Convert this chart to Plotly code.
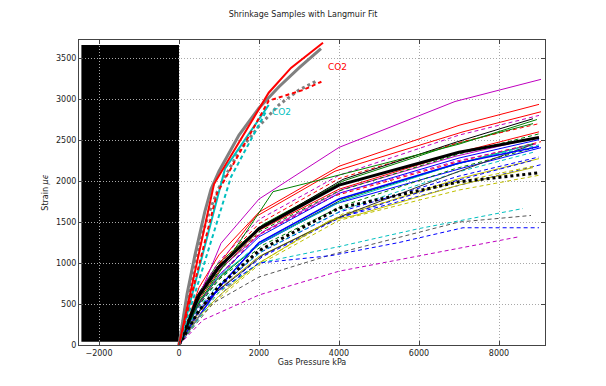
import plotly.graph_objects as go

# ---------------- data ----------------
# common pressure grids (kPa)
P_A = [0, 500, 1000, 2000, 4000, 7000, 9000]
P_B = [0, 450, 950, 2100, 4100, 6900, 8850]
P_C = [0, 550, 1100, 1900, 3900, 7100, 9050]

# main bundle strains (micro-strain)
red_a = [0, 700, 1100, 1620, 2180, 2680, 2935]
red_b = [0, 650, 1050, 1560, 2120, 2600, 2845]
red_c = [0, 550, 900, 1400, 1900, 2350, 2600]
mag_dash_a = [0, 640, 1020, 1530, 2070, 2560, 2800]
red_dash_a = [0, 600, 980, 1480, 2030, 2470, 2700]
black_thin_a = [0, 600, 950, 1450, 2020, 2470, 2760]
green_dash_a = [0, 560, 900, 1380, 1880, 2330, 2575]
black_thick = [0, 600, 950, 1420, 1950, 2350, 2530]
blue_a = [0, 500, 850, 1320, 1850, 2280, 2505]
green_b = [0, 480, 800, 1260, 1780, 2200, 2455]
blue_b = [0, 450, 760, 1200, 1720, 2160, 2407]
cyan_a = [0, 500, 820, 1260, 1760, 2200, 2450]
blue_dash_a = [0, 420, 700, 1120, 1620, 2060, 2293]
yellow_a = [0, 400, 680, 1080, 1560, 2030, 2273]
blue_dash_b = [0, 400, 660, 1080, 1570, 2000, 2253]
black_dot = [0, 420, 720, 1150, 1670, 1990, 2100]
yellow_dash = [0, 330, 570, 980, 1520, 1890, 2070]
green_dash_b = [0, 450, 780, 1220, 1700, 2150, 2400]
mag_dash_b = [0, 500, 850, 1350, 1850, 2250, 2460]
cyan_dash_a = [0, 430, 720, 1150, 1650, 2100, 2350]
black_thin_b = [0, 380, 650, 1100, 1580, 2100, 2447]
blue_thick = [0, 350, 700, 1250, 1780, 2220, 2420]
mag_c = [0, 560, 900, 1380, 1900, 2300, 2520]
red_dash_b = [0, 520, 860, 1320, 1820, 2250, 2480]
green_c = [0, 600, 980, 1470, 2000, 2450, 2700]
blue_dash_c = [0, 380, 640, 1040, 1540, 1960, 2200]
cyan_dash_b = [0, 480, 800, 1250, 1780, 2220, 2440]
yellow_dash_b = [0, 360, 620, 1030, 1600, 1980, 2180]

# series with their own pressure points
mag_solid_p = [0, 1050, 2000, 4000, 6900, 9050]
mag_solid_s = [0, 1240, 1780, 2410, 2970, 3240]
green_kink_p = [0, 500, 1000, 2350, 3500, 7000, 8950]
green_kink_s = [0, 520, 880, 1870, 2010, 2450, 2750]
yellow_kink_p = [0, 500, 1000, 2000, 3770, 4400, 7000, 8850]
yellow_kink_s = [0, 350, 600, 1000, 1520, 1580, 1950, 2164]

cyan_low_p = [0, 1000, 2000, 4000, 6000, 8600]
cyan_low_s = [0, 650, 1000, 1200, 1420, 1665]
gray_low_p = [0, 850, 2000, 3800, 7000, 8800]
gray_low_s = [0, 510, 830, 1100, 1500, 1580]
blue_low_p = [0, 700, 2000, 3800, 5500, 7100, 9000]
blue_low_s = [0, 560, 1000, 1090, 1250, 1430, 1430]
mag_low_p = [0, 600, 2000, 4000, 8500]
mag_low_s = [0, 305, 610, 900, 1320]

# CO2 samples and fits
co2_p = [0, 875, 2243, 2800, 3600]
co2_s = [0, 1963, 3077, 3380, 3687]
co2_dash_p = [0, 950, 2243, 3100, 3560]
co2_dash_s = [0, 1850, 2980, 3110, 3211]
co2_fit_p = [0, 200, 400, 643, 800, 1000, 1500, 2000, 2500, 3000, 3550]
co2_fit_s = [0, 620, 1100, 1620, 1900, 2120, 2560, 2890, 3150, 3380, 3615]
co2_dfit_p = [0, 200, 400, 600, 800, 1000, 1500, 2000, 2500, 3000, 3460]
co2_dfit_s = [0, 560, 1000, 1380, 1680, 1920, 2360, 2670, 2930, 3110, 3225]
co2_cyan_p = [0, 1150, 2243]
co2_cyan_s = [0, 2150, 2927]
co2_cyan_dash_p = [0, 1300, 2200]
co2_cyan_dash_s = [0, 2050, 2870]

x_ticks = [-2000, 0, 2000, 4000, 6000, 8000]
y_ticks = [0, 500, 1000, 1500, 2000, 2500, 3000, 3500]

# ---------------- styles ----------------
B, G, R, C, M, Y, K = "#0000ff", "#008000", "#ff0000", "#00bfbf", "#bf00bf", "#bfbf00", "#000000"
DASH = "4px,3px"
DOT = "3px,3px"

series = [
    (P_A, red_c, R, 1, "solid"),
    (P_B, mag_c, M, 1, "solid"),
    (P_C, red_dash_b, R, 1, DASH),
    (P_B, green_c, G, 1, "solid"),
    (P_C, blue_dash_c, B, 1, DASH),
    (P_A, cyan_dash_b, C, 1, DASH),
    (P_B, yellow_dash_b, Y, 1, DASH),
    (P_A, red_a, R, 1, "solid"),
    (P_C, red_b, R, 1, "solid"),
    (P_A, mag_dash_a, M, 1, DASH),
    (P_A, red_dash_a, R, 1, DASH),
    (P_B, black_thin_a, K, 1, "solid"),
    (P_A, green_dash_a, G, 1, DASH),
    (P_A, blue_a, B, 1, "solid"),
    (P_B, green_b, G, 1, "solid"),
    (P_C, blue_b, B, 1, "solid"),
    (P_B, cyan_a, C, 1, "solid"),
    (P_A, blue_dash_a, B, 1, DASH),
    (P_A, yellow_a, Y, 1, "solid"),
    (P_B, blue_dash_b, B, 1, DASH),
    (P_A, yellow_dash, Y, 1, DASH),
    (P_B, green_dash_b, G, 1, DASH),
    (P_A, mag_dash_b, M, 1, DASH),
    (P_B, cyan_dash_a, C, 1, DASH),
    (P_B, black_thin_b, "#333333", 1, "solid"),
    (P_A, blue_thick, B, 1.5, "solid"),
    (mag_solid_p, mag_solid_s, M, 1, "solid"),
    (green_kink_p, green_kink_s, G, 1, "solid"),
    (yellow_kink_p, yellow_kink_s, Y, 1, "solid"),
    (cyan_low_p, cyan_low_s, C, 1, DASH),
    (gray_low_p, gray_low_s, "#555555", 1, DASH),
    (blue_low_p, blue_low_s, B, 1, DASH),
    (mag_low_p, mag_low_s, M, 1, DASH),
    (P_A, black_thick, K, 3, "solid"),
    (P_A, black_dot, K, 3, DOT),
    (co2_fit_p, co2_fit_s, "#808080", 3, "solid"),
    (co2_dfit_p, co2_dfit_s, "#808080", 3, DOT),
    (co2_cyan_p, co2_cyan_s, C, 2, "solid"),
    (co2_cyan_dash_p, co2_cyan_dash_s, C, 2, DASH),
    (co2_dash_p, co2_dash_s, R, 2, DASH),
    (co2_p, co2_s, R, 2, "solid"),
]

fig = go.Figure()
for px, sy, col, w, dash in series:
    fig.add_trace(go.Scatter(x=px, y=sy, mode="lines",
                             line=dict(color=col, width=w, dash=dash),
                             showlegend=False, hoverinfo="skip"))

# blacked-out legend box
fig.add_shape(type="rect", xref="x", yref="y", x0=-2440, x1=0, y0=40, y1=3658,
              fillcolor="#000000", line=dict(width=0), layer="below")

fig.add_annotation(x=3685, y=3386, text="CO2", showarrow=False, xanchor="left",
                   font=dict(color=R, size=9))
fig.add_annotation(x=2268, y=2838, text="CO2", showarrow=False, xanchor="left",
                   font=dict(color=C, size=9))

axis_common = dict(showline=True, linecolor="#444444", linewidth=1, mirror="ticks",
                   ticks="inside", ticklen=4, tickcolor="#444444",
                   showgrid=True, gridcolor="#a8a8a8", griddash="1px,2px", gridwidth=1,
                   zeroline=False, tickfont=dict(size=8, color="#222222"))

# page body adds an 8px offset, so the figure is 8px smaller and margins shifted
W, H = 598, 378
fig.update_layout(
    width=W, height=H,
    margin=dict(l=71, r=61, t=32, b=41),
    paper_bgcolor="white", plot_bgcolor="white",
    font=dict(family="DejaVu Sans", size=8, color="#222222"),
    title=dict(text="Shrinkage Samples with Langmuir Fit", x=295 / W, xref="container",
               y=1 - 6 / H, yref="container", yanchor="middle", xanchor="center",
               font=dict(size=8)),
    xaxis=dict(range=[-2500, 9150], tickvals=x_ticks,
               title=dict(text="Gas Pressure kPa", standoff=2, font=dict(size=8)),
               **axis_common),
    yaxis=dict(range=[0, 3720], tickvals=y_ticks,
               title=dict(text="Strain <i>μϵ</i>", standoff=6, font=dict(size=8)),
               **axis_common),
)

fig.write_html("out.html")
